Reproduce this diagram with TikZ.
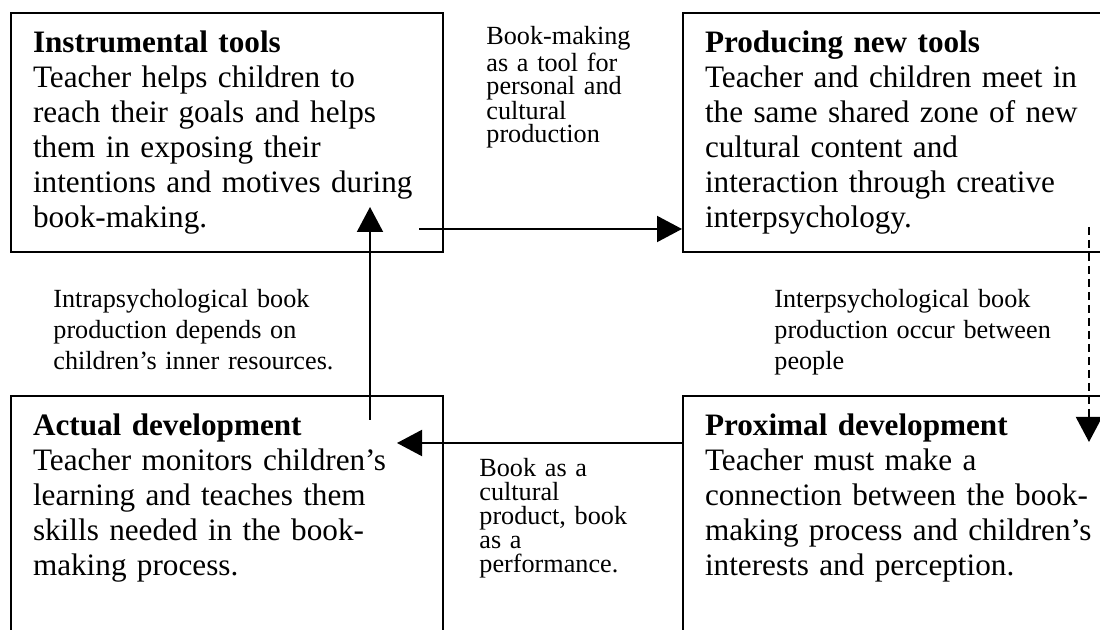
\documentclass[tikz,border=0pt]{standalone}
\usepackage{fontspec}
\setmainfont{Liberation Serif}
\usetikzlibrary{arrows.meta,calc,positioning}
\lineskiplimit=-100pt

\begin{document}
\begin{tikzpicture}[x=0.5pt, y=-0.5pt,
  zone/.style={draw, line width=1pt, anchor=north west, align=left,
               text width=194pt, inner xsep=11pt, inner ysep=0pt,
               text height=20pt, font=\fontsize{15.6}{17.5}\selectfont},
  upper/.style={zone, text depth=99.5pt},
  lower/.style={zone, text depth=150pt},
  note/.style={anchor=base west, inner sep=0pt, align=left, text width=150pt,
               font=\fontsize{13.1}{#1}\selectfont},
  flow/.style={line width=1pt, -{Triangle[length=12.5pt,width=13pt]}}]
\useasboundingbox (0,0) rectangle (1100,630);
\clip (0,0) rectangle (1100,630);
\node[upper] (tools) at (10,12) {\textbf{Instrumental tools}\\
  Teacher helps children to\\reach their goals and helps\\
  them in exposing their\\intentions and motives during\\book-making.};
\node[upper] (newtools) at (682,12) {\textbf{Producing new tools}\\
  Teacher and children meet in\\the same shared zone of new\\
  cultural content and\\interaction through creative\\interpsychology.};
\node[lower] (actual) at (10,395) {\textbf{Actual development}\\
  Teacher monitors children’s\\learning and teaches them\\
  skills needed in the book-\\making process.};
\node[lower] (proximal) at (682,395) {\textbf{Proximal development}\\
  Teacher must make a\\connection between the book-\\
  making process and children’s\\interests and perception.};
\node[note=11.5pt] (making) at (486,45) {Book-making\\as a tool for\\
  personal and\\cultural\\production};
\node[note=15.5pt] (intra) at (53,308) {Intrapsychological book\\
  production depends on\\children’s inner resources.};
\node[note=15.5pt] (inter) at (774,308) {Interpsychological book\\
  production occur between\\people};
\node[note=12pt] (product) at (479,477) {Book as a\\cultural\\
  product, book\\as a\\performance.};
\draw[flow] ($(tools.south east)+(-25,-24)$) -- ($(newtools.south west)+(0,-24)$);
\draw[flow] ($(actual.north west)+(360,25)$) -- ($(tools.south west)+(360,-46)$);
\draw[flow] ($(proximal.north west)+(0,48)$) -- ($(actual.north east)+(-47,48)$);
\draw[flow, dash pattern=on 4pt off 2.5pt]
  ($(newtools.south west)+(407,-26)$) -- ($(proximal.north west)+(407,47)$);
\end{tikzpicture}
\end{document}
